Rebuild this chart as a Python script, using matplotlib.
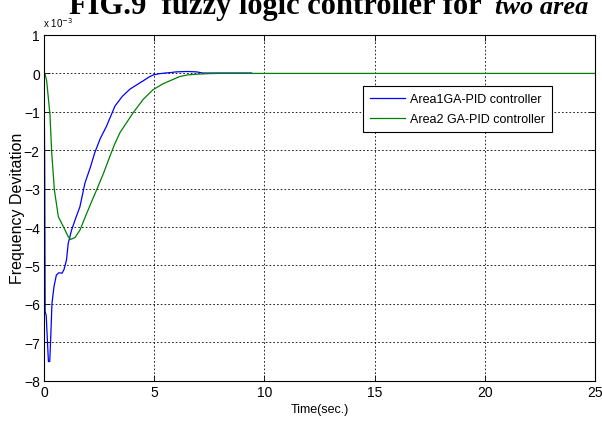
import matplotlib
matplotlib.use("Agg")
import matplotlib.pyplot as plt

plt.rcParams['font.family'] = ['Liberation Sans Narrow', 'Liberation Sans', 'DejaVu Sans']

# Time (s) and frequency deviation (x 10^-3)
t_area1 = [0.0, 0.03, 0.05, 0.1, 0.2, 0.26, 0.3, 0.36, 0.45, 0.56, 0.67, 0.82, 0.91, 1.02,
           1.1, 1.25, 1.45, 1.63, 1.86, 2.1, 2.3, 2.55, 2.84, 3.22, 3.55, 3.9, 4.2, 4.51,
           4.75, 4.96, 5.2, 5.5, 5.72, 6.0, 6.5, 6.93, 7.2, 8.0, 9.42]
f_area1 = [0.0, -2.3, -6.2, -6.3, -7.5, -7.5, -6.95, -6.0, -5.56, -5.25, -5.19, -5.2, -5.1, -4.86,
           -4.42, -4.08, -3.75, -3.47, -2.85, -2.45, -2.07, -1.7, -1.37, -0.85, -0.6, -0.41, -0.3, -0.19,
           -0.1, -0.04, -0.01, 0.01, 0.02, 0.04, 0.05, 0.04, 0.01, 0.01, 0.01]

t_area2 = [0.0, 0.05, 0.12, 0.27, 0.35, 0.47, 0.65, 0.88, 1.1, 1.21, 1.41, 1.63, 1.94, 2.15,
           2.39, 2.7, 2.99, 3.2, 3.45, 3.75, 4.05, 4.51, 4.96, 5.4, 5.72, 6.17, 6.5, 6.93,
           7.5, 8.0, 10.0, 15.0, 20.0, 25.0]
f_area2 = [0.0, -0.02, -0.19, -1.07, -2.07, -3.03, -3.73, -3.99, -4.25, -4.32, -4.27, -4.08, -3.64, -3.35,
           -3.03, -2.6, -2.16, -1.85, -1.54, -1.28, -1.02, -0.67, -0.42, -0.27, -0.19, -0.08, -0.04, -0.02,
           -0.005, 0.0, 0.0, 0.0, 0.0, 0.0]

series_labels = ['Area1GA-PID controller', 'Area2 GA-PID controller']
x_ticks = [0, 5, 10, 15, 20, 25]
y_ticks = [-8, -7, -6, -5, -4, -3, -2, -1, 0, 1]

fig = plt.figure(figsize=(6.02, 4.27), dpi=100)
ax = fig.add_axes([0.0731, 0.106, 0.915, 0.8097])

ax.plot(t_area1, f_area1, color='#0000ff', lw=0.9, label=series_labels[0])
ax.plot(t_area2, f_area2, color='#008000', lw=0.9, label=series_labels[1])

ax.set_xlim(0, 25)
ax.set_ylim(-8, 1)
ax.set_xticks(x_ticks)
ax.set_yticks(y_ticks)
ax.tick_params(direction='in', length=4, width=0.6, labelsize=10, top=True, right=True, pad=3)
ax.grid(True, color='black', linestyle=(0, (2, 2.5)), linewidth=0.6)
for s in ax.spines.values():
    s.set_linewidth(0.8)

ax.set_xlabel('Time(sec.)', fontsize=9, labelpad=3)
ax.set_ylabel('Frequency Devitation', fontsize=11.5, labelpad=-1)

leg = ax.legend(loc='upper left', bbox_to_anchor=(0.579, 0.852), fontsize=9,
                fancybox=False, framealpha=1, edgecolor='black', borderpad=0.55,
                handlelength=2.8, handletextpad=0.4, labelspacing=0.65, borderaxespad=0)
leg.get_frame().set_linewidth(0.8)

fig.text(0.071, 0.935, r'x 10$^{-3}$', fontsize=7, ha='left', va='baseline')

fig.text(0.812, 0.9665, 'FIG.9  fuzzy logic controller for ', fontsize=22, fontweight='bold',
         family='Liberation Serif', ha='right', va='baseline')
fig.text(0.822, 0.9665, 'two area', fontsize=19, fontweight='bold', style='italic',
         family='Liberation Serif', ha='left', va='baseline')

fig.savefig('out.png', dpi=100)
